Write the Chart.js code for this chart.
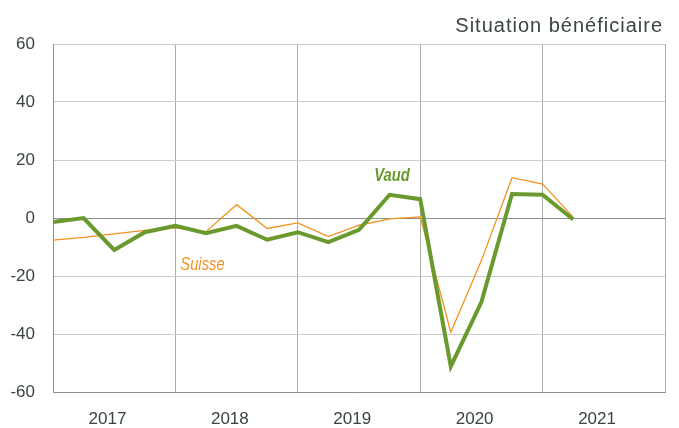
<!DOCTYPE html>
<html>
<head>
<meta charset="utf-8">
<script src="https://cdn.jsdelivr.net/npm/chart.js@4/dist/chart.umd.min.js"></script>
<style>
  html, body { margin: 0; padding: 0; background: #fff; }
  #chart { display: block; }
</style>
</head>
<body>
<canvas id="chart" width="679" height="428"></canvas>
<script>
    "use strict";

    /*  data  */
    const quarters = ["2017 T1", "2017 T2", "2017 T3", "2017 T4",
                      "2018 T1", "2018 T2", "2018 T3", "2018 T4",
                      "2019 T1", "2019 T2", "2019 T3", "2019 T4",
                      "2020 T1", "2020 T2", "2020 T3", "2020 T4",
                      "2021 T1", "2021 T2"];
    const vaud = [-1.4, 0, -11, -4.9, -2.7, -5.2, -2.7, -7.5, -4.9, -8.3,
                  -4.1, 8.0, 6.5, -51.2, -29, 8.3, 8.0, -0.5];
    const suisse = [-7.6, -6.7, -5.5, -4.3, -3.4, -4.7, 4.6, -3.6, -1.7, -6.4,
                    -2.5, -0.3, 0.4, -39.4, -14.7, 13.9, 11.7, 0.3];
    const years = ["2017", "2018", "2019", "2020", "2021"];
    const yTicks = [-60, -40, -20, 0, 20, 40, 60];
    const title = "Situation bénéficiaire";

    const green = "#6a9a2e";
    const orange = "#f5911f";
    const textGrey = "#3a4444";
    const sans = "'Liberation Sans', Arial, sans-serif";

    // condensed text drawn by squeezing the context
    function narrowText(ctx, txt, x, y) {
        ctx.save();
        ctx.translate(x, y);
        ctx.scale(0.82, 1);
        ctx.fillText(txt, 0, 0);
        ctx.restore();
    }

    // small labels on the lines + title
    const annotations = {
        id: "annotations",
        afterDraw(chart) {
            const ctx = chart.ctx;
            const x = chart.scales.x, y = chart.scales.y;
            ctx.save();
            ctx.textAlign = "left";
            ctx.textBaseline = "alphabetic";
            ctx.font = "italic bold 18px " + sans;
            ctx.fillStyle = green;
            narrowText(ctx, "Vaud", x.getPixelForValue(10.5), y.getPixelForValue(12.9));
            ctx.font = "italic 18px " + sans;
            ctx.fillStyle = orange;
            narrowText(ctx, "Suisse", x.getPixelForValue(4.16), y.getPixelForValue(-17.8));

            ctx.textAlign = "right";
            ctx.font = "20px " + sans;
            ctx.fillStyle = textGrey;
            if ("letterSpacing" in ctx) ctx.letterSpacing = "1px";
            ctx.fillText(title, 663, 31.7);
            ctx.restore();
        }
    };

    let canvas = document.getElementById("chart");
    new Chart(canvas, {
        type: "line",
        data: {
            labels: quarters,
            datasets: [{
                label: "Vaud",
                data: vaud.map((v, i) => ({ x: i, y: v })),
                borderColor: green,
                borderWidth: 4,
                pointRadius: 0,
                tension: 0,
                order: 0
            }, {
                label: "Suisse",
                data: suisse.map((v, i) => ({ x: i, y: v })),
                borderColor: orange,
                borderWidth: 1.3,
                pointRadius: 0,
                tension: 0,
                order: 1
            }]
        },
        options: {
            responsive: false,
            animation: false,
            devicePixelRatio: 1,
            layout: { padding: { top: 44, right: 14, left: 0, bottom: 0 } },
            plugins: {
                legend: { display: false },
                tooltip: { enabled: false }
            },
            scales: {
                x: {
                    type: "linear",
                    min: 0,
                    max: 20,
                    afterBuildTicks: (scale) => {
                        let t = [];
                        years.forEach((yr, i) => {
                            t.push({ value: i * 4 });
                            t.push({ value: i * 4 + 1.78 });
                        });
                        t.push({ value: 20 });
                        scale.ticks = t;
                    },
                    afterFit: (scale) => {
                        scale.height = 36;
                        scale.paddingLeft = 0;
                        scale.paddingRight = 0;
                    },
                    ticks: {
                        autoSkip: false,
                        maxRotation: 0,
                        padding: 17,
                        color: textGrey,
                        font: { family: sans, size: 17 },
                        callback: (v) => (v % 4 === 0 ? "" : years[Math.floor(v / 4)])
                    },
                    grid: {
                        drawTicks: false,
                        color: (c) => (c.tick && c.tick.value % 4 === 0 ? "#a9adad" : "rgba(0,0,0,0)")
                    },
                    border: { color: "#8c9090" }
                },
                y: {
                    min: -60,
                    max: 60,
                    afterBuildTicks: (scale) => {
                        scale.ticks = yTicks.map((v) => ({ value: v }));
                    },
                    afterFit: (scale) => { scale.width = 53; },
                    ticks: {
                        padding: 18,
                        color: textGrey,
                        font: { family: sans, size: 17 }
                    },
                    grid: {
                        drawTicks: false,
                        color: (c) => (c.tick && c.tick.value === 0 ? "#8c9090" : "#c9cdcd")
                    },
                    border: { color: "#8c9090" }
                }
            }
        },
        plugins: [annotations]
    });
</script>
</body>
</html>
